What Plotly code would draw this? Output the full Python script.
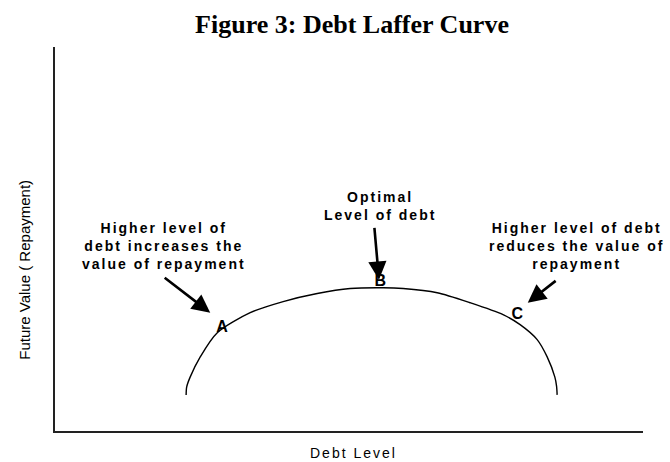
import plotly.graph_objects as go

# curve (axes run 0..100 in both directions)
debt_level = [22.3, 22.4, 23.0, 24.7, 27.6, 33.2, 38.8, 44.6, 50.2, 55.8,
              59.2, 65.0, 70.6, 76.2, 79.1, 82.0, 83.7, 85.0, 85.3, 85.4]
future_value = [9.4, 11.5, 14.1, 19.3, 25.6, 30.8, 33.7, 35.8, 37.1, 37.3,
                37.1, 36.0, 33.4, 30.3, 27.7, 23.8, 19.3, 14.1, 11.7, 9.4]

point_names = ['A', 'B', 'C']
point_debt = [28.4, 55.3, 78.6]
point_value = [26.9, 38.9, 30.3]

note_texts = ['Higher level of<br>debt increases the<br>value of repayment',
              'Optimal<br>Level of debt',
              'Higher level of debt<br>reduces the value of<br>repayment']
note_debt = [18.5, 55.3, 88.8]
note_value = [48.3, 58.7, 48.3]

# arrows: tail -> tip
arrow_tail_debt = [18.4, 54.3, 85.4]
arrow_tail_value = [40.2, 53.3, 39.4]
arrow_tip_debt = [26.4, 55.1, 80.4]
arrow_tip_value = [30.8, 39.4, 33.4]

SANS = 'Liberation Sans, Arial, sans-serif'

fig = go.Figure()
fig.add_trace(go.Scatter(x=debt_level, y=future_value, mode='lines',
                         line=dict(color='black', width=1.4, shape='spline', smoothing=0.8),
                         hoverinfo='skip', showlegend=False))
fig.add_trace(go.Scatter(x=point_debt, y=point_value, mode='text', text=point_names,
                         textposition='middle center',
                         textfont=dict(family=SANS, size=16, color='black', weight='bold'),
                         hoverinfo='skip', showlegend=False))

annotations = []
for txt, xv, yv in zip(note_texts, note_debt, note_value):
    annotations.append(dict(x=xv, y=yv, xref='x', yref='y', text=txt, showarrow=False,
                            align='center', xanchor='center', yanchor='middle',
                            font=dict(family=SANS, size=14, color='black', weight='bold')))
for tx, ty, hx, hy in zip(arrow_tail_debt, arrow_tail_value, arrow_tip_debt, arrow_tip_value):
    annotations.append(dict(x=hx, y=hy, ax=tx, ay=ty, xref='x', yref='y', axref='x', ayref='y',
                            text='', showarrow=True, arrowhead=2, arrowsize=1.4, arrowwidth=2.6,
                            arrowcolor='black', standoff=0, startstandoff=0))
annotations.append(dict(x=-0.051, y=0.42, xref='paper', yref='paper', text='Future Value ( Repayment)',
                        textangle=-90, showarrow=False, xanchor='center', yanchor='middle',
                        font=dict(family=SANS, size=15, color='black')))
annotations.append(dict(x=0.507, y=-0.057, xref='paper', yref='paper', text='Debt Level',
                        showarrow=False, xanchor='center', yanchor='middle',
                        font=dict(family=SANS, size=14, color='black')))

fig.update_layout(
    width=670, height=462,
    margin=dict(l=55, r=27, t=47, b=31),
    paper_bgcolor='white', plot_bgcolor='white',
    title=dict(text='<b>Figure 3: Debt Laffer Curve</b>', xref='container', x=352 / 670,
               y=1 - 24 / 462, xanchor='center', yanchor='middle',
               font=dict(family='Liberation Serif, Times New Roman, serif', size=26, color='black')),
    annotations=annotations,
)
axis_style = dict(range=[0, 100], showline=True, linecolor='#222', linewidth=1.5,
                  showgrid=False, zeroline=False, showticklabels=False, ticks='', fixedrange=True)
fig.update_xaxes(**axis_style)
fig.update_yaxes(**axis_style)

# page sits flush at the corner; the notes use tracked (letter spaced) lettering
post_script = """
document.body.style.margin = '0';
document.querySelectorAll('.annotation-text').forEach(function (t) {
    if (t.textContent.indexOf('Future') !== 0) { t.style.letterSpacing = '2px'; }
});
"""
fig.write_html("out.html", post_script=post_script, config={'displayModeBar': False})
